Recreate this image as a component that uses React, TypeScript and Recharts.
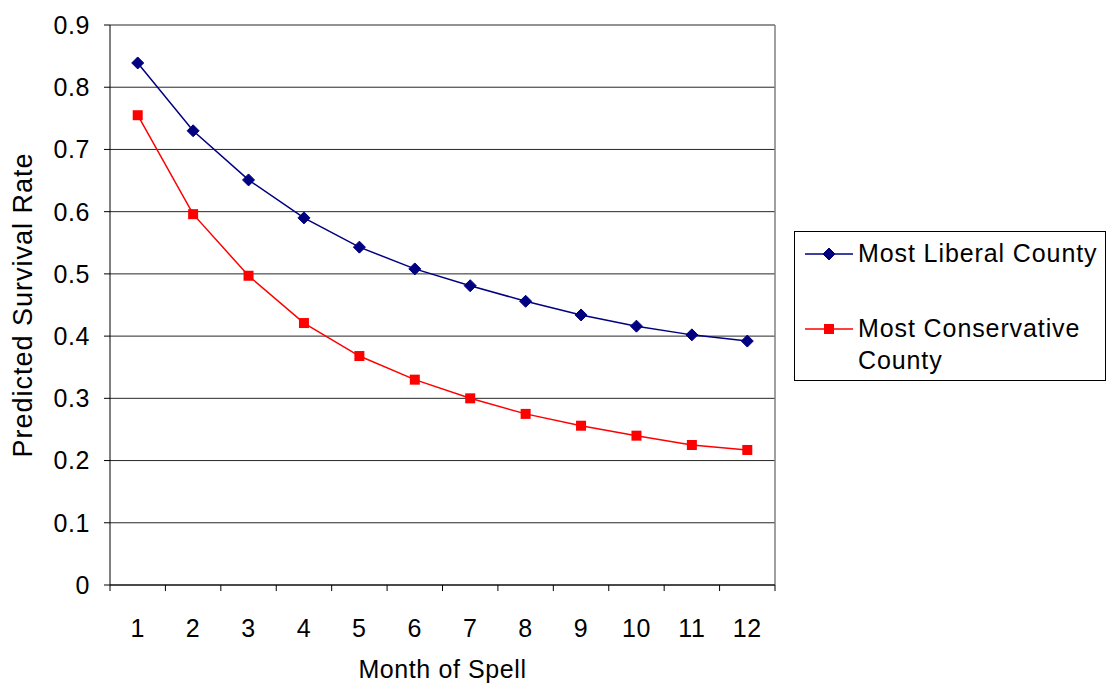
import { CartesianGrid, Line, LineChart, ReferenceLine, XAxis, YAxis } from "recharts";

const months = [1, 2, 3, 4, 5, 6, 7, 8, 9, 10, 11, 12];
const liberal = [0.839, 0.73, 0.651, 0.59, 0.543, 0.508, 0.481, 0.456, 0.434, 0.416, 0.402, 0.392];
const conservative = [0.755, 0.596, 0.497, 0.421, 0.368, 0.33, 0.3, 0.275, 0.256, 0.24, 0.225, 0.217];
const yTicks = [0, 0.1, 0.2, 0.3, 0.4, 0.5, 0.6, 0.7, 0.8, 0.9];
const xBoundaries = [0.5, 1.5, 2.5, 3.5, 4.5, 5.5, 6.5, 7.5, 8.5, 9.5, 10.5, 11.5, 12.5];

const data = months.map((m, i) => ({ month: m, liberal: liberal[i], conservative: conservative[i] }));

const font = "'Liberation Sans', Arial, sans-serif";
const navy = "#000080";
const red = "#ff0000";
const textStyle = { fontFamily: font, fontSize: 25, fill: "#000", letterSpacing: 0.6 };

function Diamond({ cx, cy }: any) {
  if (cx == null || cy == null) return null;
  const r = 6;
  return <polygon points={`${cx},${cy - r} ${cx + r},${cy} ${cx},${cy + r} ${cx - r},${cy}`} fill={navy} stroke={navy} />;
}

function Square({ cx, cy }: any) {
  if (cx == null || cy == null) return null;
  return <rect x={cx - 5} y={cy - 5} width={10} height={10} fill={red} />;
}

function LegendBox() {
  const text = { fontFamily: font, fontSize: 25, color: "#000", lineHeight: "32px", letterSpacing: 0.9, whiteSpace: "nowrap" as const };
  return (
    <div style={{ position: "absolute", left: 794, top: 231, border: "1px solid #000", width: 312, height: 150, boxSizing: "border-box", background: "#fff" }}>
      <svg width={60} height={148} style={{ position: "absolute", left: 0, top: 0 }}>
        <line x1={10} x2={58} y1={22} y2={22} stroke={navy} strokeWidth={1.5} />
        <Diamond cx={34} cy={22} />
        <line x1={10} x2={58} y1={97} y2={97} stroke={red} strokeWidth={1.5} />
        <Square cx={34} cy={97} />
      </svg>
      <div style={{ ...text, position: "absolute", left: 63, top: 5 }}>Most Liberal County</div>
      <div style={{ ...text, position: "absolute", left: 63, top: 80 }}>
        Most Conservative
        <br />
        County
      </div>
    </div>
  );
}

export default function App() {
  return (
    <div style={{ position: "absolute", left: 0, top: 0, width: 1111, height: 698, background: "#fff" }}>
      <LineChart width={1111} height={698} data={data} margin={{ top: 25, right: 336, bottom: 0, left: 0 }}>
        <CartesianGrid horizontal vertical={false} stroke="#000" strokeOpacity={0.85} />
        <XAxis
          dataKey="month"
          type="number"
          domain={[0.5, 12.5]}
          ticks={months}
          tickLine={false}
          axisLine={{ stroke: "#000" }}
          tick={textStyle}
          tickMargin={28}
          height={113}
          label={{ value: "Month of Spell", position: "insideBottom", offset: 20, style: textStyle }}
        />
        <YAxis
          domain={[0, 0.9]}
          ticks={yTicks}
          tickLine={{ stroke: "#000" }}
          tickSize={6}
          axisLine={{ stroke: "#000" }}
          tick={textStyle}
          tickMargin={14}
          width={110}
          allowDataOverflow
          label={{ value: "Predicted Survival Rate", angle: -90, position: "insideLeft", offset: 22, style: { ...textStyle, fontSize: 27, letterSpacing: 1, textAnchor: "middle" } }}
        />
        {/* Excel-style x tick marks between the month categories */}
        {xBoundaries.map((b) => (
          <ReferenceLine
            key={b}
            segment={[{ x: b, y: 0 }, { x: b, y: -0.0097 }]}
            ifOverflow="visible"
            stroke="#000"
          />
        ))}
        <ReferenceLine x={12.5} stroke="#808080" strokeWidth={1.5} />
        <Line
          dataKey="liberal"
          name="Most Liberal County"
          type="linear"
          stroke={navy}
          strokeWidth={1.5}
          dot={<Diamond />}
          activeDot={false}
          isAnimationActive={false}
        />
        <Line
          dataKey="conservative"
          name="Most Conservative County"
          type="linear"
          stroke={red}
          strokeWidth={1.5}
          dot={<Square />}
          activeDot={false}
          isAnimationActive={false}
        />
      </LineChart>
      <LegendBox />
    </div>
  );
}
